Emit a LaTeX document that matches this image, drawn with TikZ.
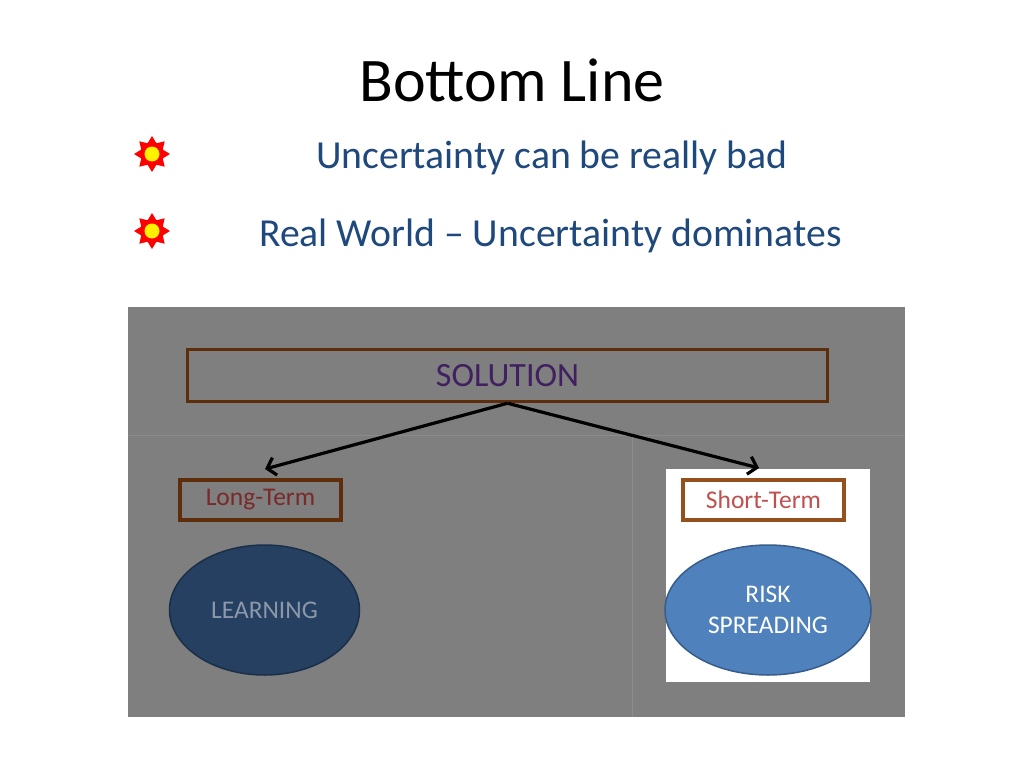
\documentclass[tikz,border=0pt]{standalone}
\usepackage{fontspec}
\setmainfont{Carlito}
\usetikzlibrary{shapes.geometric,arrows.meta}
\definecolor{txtblue}{RGB}{31,73,125}
\definecolor{panelgray}{RGB}{127,127,127}
\definecolor{gridgray}{RGB}{140,140,140}
\definecolor{brownA}{RGB}{94,46,12}
\definecolor{brownB}{RGB}{150,80,30}
\definecolor{purpleT}{RGB}{64,32,96}
\definecolor{redA}{RGB}{122,40,40}
\definecolor{redB}{RGB}{192,80,77}
\definecolor{navy}{RGB}{37,64,97}
\definecolor{navyB}{RGB}{27,47,72}
\definecolor{learnT}{RGB}{140,152,170}
\definecolor{blueF}{RGB}{79,129,189}
\definecolor{blueB}{RGB}{56,93,138}
\tikzset{
  startxt/.style={anchor=west,font=\fontsize{39.7}{46}\selectfont,text=txtblue,inner sep=0pt},
  termbox/.style={draw,line width=3.5pt,minimum width=161pt,minimum height=40pt,inner sep=0pt,font=\fontsize{25.5}{30}\selectfont},
  oval/.style={ellipse,line width=1.5pt,inner sep=0pt,align=center,font=\fontsize{25.4}{31}\selectfont},
  flowarrow/.style={line width=3.2pt,-{Straight Barb[length=8pt,width=18pt,line width=3.2pt]}},
  sunstar/.style={star,star points=8,star point ratio=1.55,fill=red,draw=red,line width=1pt,minimum size=34pt,inner sep=0pt},
  suncore/.style={circle,fill=yellow,minimum size=15pt,inner sep=0pt}
}
\begin{document}
\begin{tikzpicture}[x=1pt,y=-1pt]
\useasboundingbox (0,0) rectangle (1024,768);
\fill[white] (0,0) rectangle (1024,768);
% title
\node[font=\fontsize{62}{70}\selectfont,inner sep=0pt] (title) at (512,80) {Bottom Line};
% bullets
\node[sunstar] (s1) at (152,154) {};
\node[suncore] (c1) at (s1) {};
\node[sunstar] (s2) at (152,231) {};
\node[suncore] (c2) at (s2) {};
\node[startxt] (b1) at (316,158) {Uncertainty can be really bad};
\node[startxt] (b2) at (259,236) {Real World -- Uncertainty dominates};
% panel
\fill[panelgray] (128,307) rectangle (905,717);
\draw[gridgray,line width=0.8pt] (128,435) -- (905,435);
\draw[gridgray,line width=0.8pt] (632,435) -- (632,717);
\fill[white] (666,469) rectangle (870,682);
% solution
\node[draw=brownA,line width=3.5pt,minimum width=640pt,minimum height=52pt,inner sep=0pt,
      font=\fontsize{34}{40}\selectfont,text=purpleT] (sol) at (507.5,375.5) {SOLUTION};
% terms
\node[termbox,draw=brownA,text=redA] (lt) at (260.5,500) {Long-Term};
\node[termbox,draw=brownB,text=redB] (st) at (763.5,500) {Short-Term};
% ovals
\node[oval,fill=navy,draw=navyB,text=learnT,minimum width=190pt,minimum height=130pt] (learn) at (264.5,610) {LEARNING};
\node[oval,fill=blueF,draw=blueB,text=white,minimum width=206pt,minimum height=130pt] (risk) at (768,610) {RISK\\SPREADING};
% arrows
\coordinate (ltop) at (265,469);
\coordinate (stop) at (759,468);
\draw[flowarrow] (sol.south) -- (ltop);
\draw[flowarrow] (sol.south) -- (stop);
\end{tikzpicture}
\end{document}
